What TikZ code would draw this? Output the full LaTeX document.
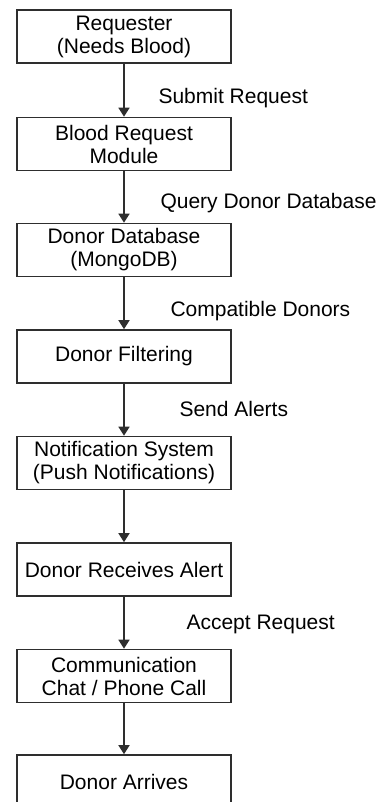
\documentclass[tikz,border=0pt]{standalone}
\usepackage{fontspec}
\setmainfont{Liberation Sans}
\usetikzlibrary{arrows.meta,positioning}
\definecolor{ink}{HTML}{2E2E2E}

\begin{document}
\begin{tikzpicture}[x=1pt, y=1pt,
    stage/.style={draw=ink, line width=1.6pt, minimum width=214pt, minimum height=53pt,
      inner sep=0pt, align=center, font=\fontsize{21}{23}\selectfont},
    flow/.style={draw=ink, line width=1.5pt, -{Triangle[width=11pt, length=9pt]}},
    lbl/.style={anchor=base west, font=\fontsize{21}{23}\selectfont}]
  \useasboundingbox (0,0) rectangle (382,-802);
  % process stages, top to bottom
  \foreach \i/\y/\t in {1/36.5/{Requester\\(Needs Blood)}, 2/144/{Blood Request\\Module},
      3/250/{Donor Database\\(MongoDB)}, 4/356.5/{Donor Filtering},
      5/463/{Notification System\\(Push Notifications)}, 6/569.5/{Donor Receives Alert},
      7/676/{Communication\\Chat / Phone Call}, 8/781.5/{Donor Arrives}}
    \node[stage] (s\i) at (124,-\y) {\t};
  % connectors
  \foreach \i/\j in {1/2, 2/3, 3/4, 4/5, 5/6, 6/7, 7/8}
    \draw[flow] (s\i) -- (s\j);
  % connector labels
  \foreach \i/\x/\y/\t in {1/155/104/Submit Request, 2/157/208.5/Query Donor Database,
      3/167/316.5/Compatible Donors, 4/176/416.5/Send Alerts, 6/183/629/Accept Request}
    \node[lbl] (l\i) at (\x,-\y) {\t};
\end{tikzpicture}
\end{document}
